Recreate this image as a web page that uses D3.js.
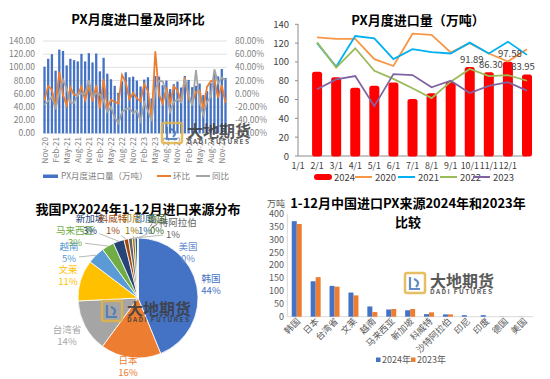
<!DOCTYPE html>
<html><head><meta charset="utf-8">
<script src="https://cdn.jsdelivr.net/npm/d3@7"></script>
<style>
body{margin:0;background:#fff}
svg{display:block;font-family:"Noto Sans CJK SC","Noto Sans",sans-serif}
</style></head>
<body><svg id="c" width="550" height="379"></svg>
<script>
// ---------- DATA ----------
// Chart 1: monthly PX imports Nov-20 .. Dec-24 (万吨), MoM %, YoY %
const c1TickLabels = ["Nov-20","Feb-21","May-21","Aug-21","Nov-21","Feb-22","May-22","Aug-22","Nov-22","Feb-23","May-23","Aug-23","Nov-23","Feb-24","May-24","Aug-24","Nov-24"];
const c1Volume = [101,113, 120,95,127,125,103,113,111,109,120.5,109,121.5,107.5, 121,94,114.5,90.5,82,72,61.5,79,92.5,85,86,80, 71,81.5,85,53,87,86,73,80,67,74.5,78.5,69.5, 87,81,70,72,75.5,58,64,76,91.89,86.3,97.58,83.95];
const c1MoM = [-10,11.9, 6.2,-20.8,33.7,-1.6,-17.6,9.7,-1.8,-1.8,10.6,-9.5,11.5,-11.5, 12.6,-22.3,21.8,-21.0,-9.4,-12.2,-14.6,28.5,17.1,-8.1,1.2,-7.0, -11.3,14.8,4.3,-37.6,64.2,-1.1,-15.1,9.6,-16.3,11.2,5.4,-11.5, 25.2,-6.9,-13.6,2.9,4.9,-23.2,10.3,18.8,20.9,-6.1,13.1,-14.0];
const c1YoY = [-17,-11, -4.8,-23.7,2.0,21.4,7.6,-13.1,-13.8,-0.9,0.4,0,20.3,-4.9, 0.8,-1.1,-9.8,-27.6,-20.4,-36.3,-44.6,-27.5,-23.2,-22.0,-29.2,-25.6, -41.3,-13.3,-25.8,-41.4,6.1,19.4,18.7,1.3,-27.6,-12.4,-8.7,-13.1, 22.5,-0.6,-17.6,35.8,-13.2,-32.6,-12.3,-5.0,37.1,15.8,24.3,20.8];
const c1LeftTicks = [0,20,40,60,80,100,120,140];
const c1RightTicks = [-60,-40,-20,0,20,40,60,80];

// Chart 2: monthly imports by year
const c2Labels = ["1/1","2/1","3/1","4/1","5/1","6/1","7/1","8/1","9/1","10/1","11/1","12/1"];
const c2Y2024 = [87,81,70,72,75.5,58,64,76,91.89,86.30,97.58,83.95];
const c2Y2020 = [126,124.5,124.5,103,95.7,130,128.7,110,120,109,100.5,113.5];
const c2Y2021 = [120,95,127.5,125,103,113.5,110.5,109,120.5,109,121.5,107.5];
const c2Y2022 = [121,94,114.5,90.5,82,72,61.5,79,92.5,85,86,80];
const c2Y2023 = [71,81.5,85,53,87,86,73,80,67,74.5,78.5,69.5];
const c2LabelledFrom = 8; // data labels shown for the last four 2024 bars

// Charts 3 & 4: import sources (万吨)
const srcNames = ["韩国","日本","台湾省","文莱","越南","马来西亚","新加坡","科威特","沙特阿拉伯","印尼","印度","德国","美国"];
const src2024 = [372,138,120,94,40,28,25,10,9,6,6,0.5,0.3];
const src2023 = [361,154,117,83,18,30,30,17,9,0,0,0,0];
const c4Ticks = [0,50,100,150,200,250,300,350,400];

// ---------- STYLE / LAYOUT ----------
const pieColors = ["#4472C4","#ED7D31","#A5A5A5","#FFC000","#5B9BD5","#70AD47","#264478","#9E480E","#636363","#997300","#255E91","#43682B","#698ED0"];
const pieLabelAt = {"韩国":[211,284],"日本":[128,366],"台湾省":[67,335],"文莱":[68,275],"越南":[69,252],"马来西亚":[75,236],"新加坡":[90,224],"科威特":[113,224],"印尼":[132,224],"印度":[145,224],"德国":[157,224],"沙特阿拉伯":[173,228],"美国":[188,252]};

const svg = d3.select("#c");
const txt = "#595959";

function logo(x, y){
  const g = svg.append("g").attr("opacity",0.85);
  g.append("rect").attr("x",x).attr("y",y).attr("width",20).attr("height",20).attr("rx",2)
    .attr("fill","none").attr("stroke","#E3B448").attr("stroke-width",2.5);
  g.append("path").attr("d",`M${x+5},${y+4} L${x+5},${y+16} L${x+15},${y+16} M${x+9},${y+6} Q${x+16},${y+9} ${x+11},${y+14}`)
    .attr("fill","none").attr("stroke","#4A78B8").attr("stroke-width",2.2);
  g.append("text").attr("x",x+25).attr("y",y+14).attr("font-size",16).attr("font-weight","bold")
    .attr("fill","#3d3d3d").text("大地期货");
  g.append("text").attr("x",x+25).attr("y",y+21).attr("font-size",6.5).attr("font-weight","bold")
    .attr("fill","#3d3d3d").attr("textLength",62).attr("lengthAdjust","spacing").text("DADI FUTURES");
}

// ---------- CHART 1 ----------
(function(){
  const g = svg.append("g");
  const idx = d3.range(c1Volume.length);
  const x = d3.scaleBand().domain(idx).range([43,227]).paddingInner(0.38).paddingOuter(0.1);
  const yL = d3.scaleLinear().domain([0,140]).range([133.3,41]);
  const yR = d3.scaleLinear().domain([-60,80]).range([133.3,41]);
  g.append("text").attr("x",138).attr("y",24).attr("text-anchor","middle").attr("font-size",13)
    .attr("font-weight","bold").attr("fill","#000").text("PX月度进口量及同环比");
  g.selectAll(".gl").data(c1LeftTicks).join("line").attr("x1",43).attr("x2",227)
    .attr("y1",d=>yL(d)).attr("y2",d=>yL(d)).attr("stroke","#d9d9d9").attr("stroke-width",0.8);
  g.selectAll(".lt").data(c1LeftTicks).join("text").attr("x",35).attr("y",d=>yL(d)+3)
    .attr("text-anchor","end").attr("font-size",8.5).attr("fill","#7f7f7f").text(d=>d.toFixed(2));
  g.selectAll(".rt").data(c1RightTicks).join("text").attr("x",235).attr("y",d=>yR(d)+3)
    .attr("font-size",8.5).attr("fill","#7f7f7f").text(d=>d.toFixed(2)+"%");
  g.selectAll(".b").data(c1Volume).join("rect").attr("x",(d,i)=>x(i)).attr("width",x.bandwidth())
    .attr("y",d=>yL(d)).attr("height",d=>yL(0)-yL(d)).attr("fill","#4472C4");
  const cx = i=>x(i)+x.bandwidth()/2;
  const line = d3.line().x((d,i)=>cx(i)).y(d=>yR(d));
  g.append("path").attr("d",line(c1MoM)).attr("fill","none").attr("stroke","#ED7D31").attr("stroke-width",1.8);
  g.append("path").attr("d",line(c1YoY)).attr("fill","none").attr("stroke","#A5A5A5").attr("stroke-width",1.8);
  g.selectAll(".xl").data(c1TickLabels).join("text")
    .attr("transform",(d,i)=>`translate(${cx(i*3)+3},137) rotate(-90)`)
    .attr("text-anchor","end").attr("font-size",8).attr("fill","#7f7f7f").text(d=>d);
  // legend
  g.append("rect").attr("x",43).attr("y",174.5).attr("width",15).attr("height",3.5).attr("fill","#4472C4");
  g.append("text").attr("x",61).attr("y",179).attr("font-size",8.5).attr("fill","#7f7f7f").text("PX月度进口量（万吨）");
  g.append("line").attr("x1",157).attr("x2",171).attr("y1",176).attr("y2",176).attr("stroke","#ED7D31").attr("stroke-width",2);
  g.append("text").attr("x",173).attr("y",179).attr("font-size",8.5).attr("fill","#7f7f7f").text("环比");
  g.append("line").attr("x1",196).attr("x2",210).attr("y1",176).attr("y2",176).attr("stroke","#A5A5A5").attr("stroke-width",2);
  g.append("text").attr("x",212).attr("y",179).attr("font-size",8.5).attr("fill","#7f7f7f").text("同比");
  logo(162,123);
})();

// ---------- CHART 2 ----------
(function(){
  const g = svg.append("g");
  const x = d3.scaleLinear().domain([0,12]).range([298,527]);
  const y = d3.scaleLinear().domain([0,140]).range([156,24.3]);
  g.append("text").attr("x",418).attr("y",25).attr("text-anchor","middle").attr("font-size",13)
    .attr("font-weight","bold").attr("fill","#000").text("PX月度进口量（万吨）");
  const yt = d3.range(0,141,20);
  g.selectAll(".yl").data(yt).join("text").attr("x",289).attr("y",d=>y(d)+3.5).attr("text-anchor","end")
    .attr("font-size",9.5).attr("fill","#404040").text(d=>d);
  g.selectAll(".yk").data(yt).join("line").attr("x1",295).attr("x2",298).attr("y1",d=>y(d)).attr("y2",d=>y(d)).attr("stroke","#8c8c8c");
  g.append("line").attr("x1",298).attr("x2",298).attr("y1",24).attr("y2",156).attr("stroke","#8c8c8c");
  g.append("line").attr("x1",298).attr("x2",527).attr("y1",156).attr("y2",156).attr("stroke","#8c8c8c");
  g.selectAll(".xl").data(c2Labels).join("text").attr("x",(d,i)=>x(i)).attr("y",169).attr("text-anchor","middle")
    .attr("font-size",8.8).attr("fill","#404040").text(d=>d);
  // 2024 bars (rounded)
  g.selectAll(".b").data(c2Y2024).join("rect").attr("x",(d,i)=>x(i+1)-2.5).attr("width",5)
    .attr("y",d=>y(d)).attr("height",d=>y(0)-y(d)-2).attr("fill","#FF0000")
    .attr("stroke","#FF0000").attr("stroke-width",5).attr("stroke-linejoin","round");
  const line = d3.line().defined(d=>d!=null).x((d,i)=>x(i+1)).y(d=>y(d));
  [[c2Y2020,"#F79646"],[c2Y2021,"#00B0F0"],[c2Y2022,"#9BBB59"],[c2Y2023,"#8064A2"]].forEach(([s,c])=>{
    g.append("path").attr("d",line(s)).attr("fill","none").attr("stroke",c).attr("stroke-width",1.8);
  });
  g.selectAll(".dl").data(c2Y2024.map((v,i)=>({v,i})).filter(d=>d.i>=c2LabelledFrom)).join("text")
    .attr("x",d=>Math.min(x(d.i+1)+2, 523)).attr("y",d=>y(d.v)-7).attr("text-anchor","middle")
    .attr("font-size",9.5).attr("fill","#404040").text(d=>d.v.toFixed(2));
  // legend
  const lg = [["2024","#FF0000","bar",314],["2020","#F79646","line",355],["2021","#00B0F0","line",398],["2022","#9BBB59","line",440],["2023","#8064A2","line",473]];
  lg.forEach(([t,c,k,lx])=>{
    if(k==="bar") g.append("rect").attr("x",lx).attr("y",174).attr("width",18).attr("height",6).attr("rx",3).attr("fill",c);
    else g.append("line").attr("x1",lx).attr("x2",lx+17).attr("y1",177).attr("y2",177).attr("stroke",c).attr("stroke-width",2);
    g.append("text").attr("x",lx+20).attr("y",180.5).attr("font-size",9.5).attr("fill","#404040").text(t);
  });
})();

// ---------- CHART 3 (pie) ----------
(function(){
  const g = svg.append("g");
  g.append("text").attr("x",138).attr("y",214).attr("text-anchor","middle").attr("font-size",13)
    .attr("font-weight","bold").attr("fill","#000").text("我国PX2024年1-12月进口来源分布");
  const cx=138, cy=298, r=60;
  const total = d3.sum(src2024);
  const data = srcNames.map((n,i)=>({n,v:src2024[i],c:pieColors[i]}));
  const arcs = d3.pie().sort(null).value(d=>d.v)(data);
  const arc = d3.arc().innerRadius(0).outerRadius(r);
  const pg = g.append("g").attr("transform",`translate(${cx},${cy})`);
  pg.selectAll("path").data(arcs).join("path").attr("d",arc).attr("fill",d=>d.data.c)
    .attr("stroke","#fff").attr("stroke-width",0.8);
  // leader lines for small slices
  arcs.forEach((a,i)=>{
    if(i<4 || i===12) return;
    const m=(a.startAngle+a.endAngle)/2;
    const px=cx+Math.sin(m)*r, py=cy-Math.cos(m)*r;
    const [lx,ly]=pieLabelAt[a.data.n];
    const dx=px-lx, dy=py-(ly+6), L=Math.hypot(dx,dy), k=Math.min(10,L-2)/L;
    g.append("line").attr("x1",lx+dx*k).attr("y1",ly+6+dy*k).attr("x2",px).attr("y2",py)
      .attr("stroke","#a6a6a6").attr("stroke-width",0.8);
  });
  arcs.forEach(a=>{
    const [lx,ly]=pieLabelAt[a.data.n];
    const col = a.data.c;
    g.append("text").attr("x",lx).attr("y",ly-2).attr("text-anchor","middle").attr("font-size",9.5)
      .attr("fill",col).text(a.data.n);
    g.append("text").attr("x",lx).attr("y",ly+10).attr("text-anchor","middle").attr("font-size",9.5)
      .attr("fill",col).text(Math.round(a.data.v/total*100)+"%");
  });
  logo(102,301);
})();

// ---------- CHART 4 (grouped bars) ----------
(function(){
  const g = svg.append("g");
  g.append("text").attr("x",408).attr("y",208).attr("text-anchor","middle").attr("font-size",13)
    .attr("font-weight","bold").attr("fill","#000").text("1-12月中国进口PX来源2024年和2023年");
  g.append("text").attr("x",408).attr("y",227).attr("text-anchor","middle").attr("font-size",13)
    .attr("font-weight","bold").attr("fill","#000").text("比较");
  const x = d3.scaleBand().domain(srcNames).range([287.3,533]);
  const x1 = d3.scaleBand().domain(["2024","2023"]).range([0,10]);
  const off = (x.bandwidth()-10)/2;
  const y = d3.scaleLinear().domain([0,400]).range([316.7,214]);
  g.append("text").attr("x",285).attr("y",207).attr("text-anchor","end").attr("font-size",9).attr("fill",txt).text("万吨");
  g.selectAll(".yl").data(c4Ticks).join("text").attr("x",284).attr("y",d=>y(d)+3).attr("text-anchor","end")
    .attr("font-size",9).attr("fill",txt).text(d=>d);
  g.append("line").attr("x1",287.3).attr("x2",287.3).attr("y1",214).attr("y2",316.7).attr("stroke","#d9d9d9");
  g.append("line").attr("x1",287.3).attr("x2",533).attr("y1",316.7).attr("y2",316.7).attr("stroke","#d9d9d9");
  const rows = srcNames.map((n,i)=>({n,a:src2024[i],b:src2023[i]}));
  g.selectAll(".ba").data(rows).join("rect").attr("x",d=>x(d.n)+off+x1("2024")).attr("width",x1.bandwidth())
    .attr("y",d=>y(d.a)).attr("height",d=>y(0)-y(d.a)).attr("fill","#4472C4");
  g.selectAll(".bb").data(rows).join("rect").attr("x",d=>x(d.n)+off+x1("2023")).attr("width",x1.bandwidth())
    .attr("y",d=>y(d.b)).attr("height",d=>y(0)-y(d.b)).attr("fill","#ED7D31");
  g.selectAll(".xl").data(srcNames).join("text")
    .attr("transform",d=>`translate(${x(d)+x.bandwidth()/2+4},322) rotate(-45)`)
    .attr("text-anchor","end").attr("font-size",9).attr("fill",txt).text(d=>d);
  g.append("rect").attr("x",376).attr("y",357.5).attr("width",4.5).attr("height",4.5).attr("fill","#4472C4");
  g.append("text").attr("x",382).attr("y",363).attr("font-size",9).attr("fill",txt).text("2024年");
  g.append("rect").attr("x",411).attr("y",357.5).attr("width",4.5).attr("height",4.5).attr("fill","#ED7D31");
  g.append("text").attr("x",417).attr("y",363).attr("font-size",9).attr("fill",txt).text("2023年");
  logo(405,273);
})();
</script></body></html>
